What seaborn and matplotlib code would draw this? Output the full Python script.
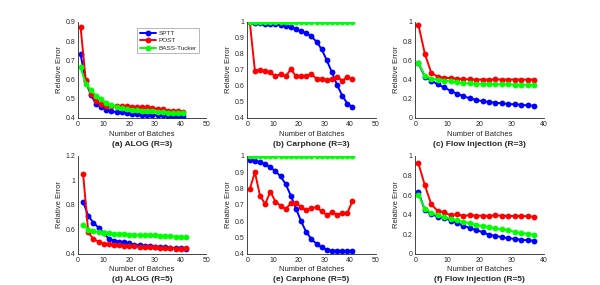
import numpy as np
import pandas as pd
import matplotlib
matplotlib.use("Agg")
import matplotlib.pyplot as plt
import seaborn as sns

sns.set_theme(style="white")
plt.rcParams['font.family'] = ['Liberation Sans', 'DejaVu Sans']

methods = ["SPTT", "POST", "BASS-Tucker"]
colors = {"SPTT": "#0000ff", "POST": "#ff0000", "BASS-Tucker": "#00ff00"}

titles = ["(a) ALOG (R=3)", "(b) Carphone (R=3)", "(c) Flow Injection (R=3)",
          "(d) ALOG (R=5)", "(e) Carphone (R=5)", "(f) Flow Injection (R=5)"]

x_odd41 = list(range(1, 42, 2))
x_even42 = list(range(2, 43, 2))
x_odd37 = list(range(1, 38, 2))

# (a) ALOG R=3
a_sptt = [0.733, 0.59, 0.52, 0.475, 0.457, 0.443, 0.436, 0.43, 0.43, 0.426, 0.42,
          0.42, 0.415, 0.415, 0.415, 0.413, 0.413, 0.41, 0.41, 0.41, 0.41]
a_post = [0.874, 0.60, 0.526, 0.486, 0.472, 0.464, 0.465, 0.463, 0.46, 0.46, 0.458,
          0.458, 0.455, 0.455, 0.45, 0.449, 0.445, 0.438, 0.436, 0.435, 0.432]
a_bass = [0.664, 0.578, 0.545, 0.517, 0.50, 0.478, 0.468, 0.457, 0.45, 0.447, 0.443,
          0.44, 0.438, 0.435, 0.435, 0.43, 0.429, 0.428, 0.428, 0.428, 0.426]

# (b) Carphone R=3
b_sptt = [1.0, 0.995, 0.993, 0.99, 0.988, 0.985, 0.98, 0.975, 0.967, 0.955, 0.942,
          0.93, 0.91, 0.876, 0.83, 0.76, 0.685, 0.606, 0.54, 0.49, 0.468]
b_post = [1.0, 0.695, 0.70, 0.693, 0.685, 0.66, 0.674, 0.66, 0.705, 0.66, 0.66,
          0.664, 0.674, 0.645, 0.645, 0.637, 0.645, 0.658, 0.633, 0.656, 0.643]
b_bass = [1.0] * 21

# (c) Flow Injection R=3
c_sptt = [0.57, 0.43, 0.39, 0.35, 0.318, 0.284, 0.253, 0.228, 0.204, 0.187, 0.176,
          0.166, 0.16, 0.152, 0.145, 0.142, 0.138, 0.131, 0.128]
c_post = [0.97, 0.67, 0.47, 0.43, 0.42, 0.415, 0.41, 0.405, 0.402, 0.40, 0.40,
          0.40, 0.402, 0.40, 0.40, 0.40, 0.40, 0.40, 0.40]
c_bass = [0.575, 0.44, 0.41, 0.40, 0.39, 0.38, 0.37, 0.363, 0.36, 0.358, 0.355,
          0.354, 0.352, 0.35, 0.349, 0.348, 0.347, 0.346, 0.346]

# (d) ALOG R=5
d_sptt = [0.825, 0.71, 0.655, 0.614, 0.57, 0.525, 0.508, 0.50, 0.495, 0.487, 0.476,
          0.47, 0.466, 0.462, 0.46, 0.455, 0.453, 0.45, 0.447, 0.445, 0.44]
d_post = [1.051, 0.576, 0.522, 0.50, 0.484, 0.481, 0.473, 0.47, 0.468, 0.465, 0.463,
          0.46, 0.458, 0.457, 0.453, 0.45, 0.448, 0.445, 0.443, 0.443, 0.45]
d_bass = [0.64, 0.598, 0.587, 0.58, 0.573, 0.568, 0.566, 0.563, 0.56, 0.558, 0.558,
          0.555, 0.555, 0.553, 0.552, 0.55, 0.547, 0.545, 0.542, 0.54, 0.537]

# (e) Carphone R=5
e_sptt = [0.976, 0.97, 0.96, 0.95, 0.93, 0.907, 0.874, 0.827, 0.756, 0.677, 0.60,
          0.533, 0.492, 0.461, 0.44, 0.426, 0.42, 0.42, 0.418, 0.417, 0.417]
e_post = [0.797, 0.90, 0.756, 0.705, 0.782, 0.72, 0.695, 0.675, 0.71, 0.71, 0.687,
          0.667, 0.68, 0.687, 0.66, 0.638, 0.654, 0.64, 0.65, 0.652, 0.723]
e_bass = [1.0] * 21

# (f) Flow Injection R=5
f_sptt = [0.633, 0.445, 0.408, 0.38, 0.37, 0.34, 0.315, 0.288, 0.264, 0.243, 0.223,
          0.195, 0.185, 0.171, 0.161, 0.154, 0.144, 0.14, 0.134]
f_post = [0.925, 0.70, 0.507, 0.438, 0.425, 0.394, 0.407, 0.387, 0.397, 0.39, 0.39,
          0.387, 0.394, 0.39, 0.387, 0.387, 0.387, 0.384, 0.38]
f_bass = [0.606, 0.462, 0.42, 0.394, 0.373, 0.36, 0.342, 0.329, 0.312, 0.295, 0.284,
          0.274, 0.26, 0.25, 0.24, 0.226, 0.216, 0.205, 0.195]

panels = [
    (x_odd41, [a_sptt, a_post, a_bass], (0, 50), (0.4, 0.9), [0.4, 0.5, 0.6, 0.7, 0.8, 0.9], ["0.4", "0.5", "0.6", "0.7", "0.8", "0.9"], [0, 10, 20, 30, 40, 50]),
    (x_odd41, [b_sptt, b_post, b_bass], (0, 50), (0.4, 1.0), [0.4, 0.5, 0.6, 0.7, 0.8, 0.9, 1.0], ["0.4", "0.5", "0.6", "0.7", "0.8", "0.9", "1"], [0, 10, 20, 30, 40, 50]),
    (x_odd37, [c_sptt, c_post, c_bass], (0, 40), (0.0, 1.0), [0, 0.2, 0.4, 0.6, 0.8, 1.0], ["0", "0.2", "0.4", "0.6", "0.8", "1"], [0, 10, 20, 30, 40]),
    (x_even42, [d_sptt, d_post, d_bass], (0, 50), (0.4, 1.2), [0.4, 0.6, 0.8, 1.0, 1.2], ["0.4", "0.6", "0.8", "1", "1.2"], [0, 10, 20, 30, 40, 50]),
    (x_odd41, [e_sptt, e_post, e_bass], (0, 50), (0.4, 1.0), [0.4, 0.5, 0.6, 0.7, 0.8, 0.9, 1.0], ["0.4", "0.5", "0.6", "0.7", "0.8", "0.9", "1"], [0, 10, 20, 30, 40, 50]),
    (x_odd37, [f_sptt, f_post, f_bass], (0, 40), (0.0, 1.0), [0, 0.2, 0.4, 0.6, 0.8, 1.0], ["0", "0.2", "0.4", "0.6", "0.8", "1"], [0, 10, 20, 30, 40]),
]

fig = plt.figure(figsize=(6.0, 2.85), dpi=100)
lefts = [0.130, 0.412, 0.692]
width = 0.214
bottoms = [0.586, 0.109]
heights = [0.337, 0.344]
title_y = [-0.375, -0.36]

for i, (xs, ys, xlim, ylim, yt, ytl, xt) in enumerate(panels):
    r, c = divmod(i, 3)
    ax = fig.add_axes([lefts[c], bottoms[r], width, heights[r]])
    rows = []
    for m, yv in zip(methods, ys):
        for xv, v in zip(xs, yv):
            rows.append({"x": xv, "y": v, "Method": m})
    df = pd.DataFrame(rows)
    sns.lineplot(data=df, x="x", y="y", hue="Method", hue_order=methods,
                 palette=colors, marker="o", markersize=4.2, markeredgewidth=0,
                 linewidth=1.4, ax=ax, legend=(i == 0), estimator=None, sort=False)
    ax.set_xlim(*xlim)
    ax.set_ylim(*ylim)
    ax.set_xticks(xt)
    ax.set_xticklabels([str(t) for t in xt])
    ax.set_yticks(yt)
    ax.set_yticklabels(ytl)
    ax.tick_params(axis="both", labelsize=5, direction="in", length=2, width=0.5,
                   pad=2, colors="#262626")
    for s in ["top", "right"]:
        ax.spines[s].set_visible(False)
    for s in ["left", "bottom"]:
        ax.spines[s].set_linewidth(0.6)
        ax.spines[s].set_color("#262626")
    ax.set_xlabel("Number of Batches", fontsize=5.5, labelpad=2)
    ax.set_ylabel("Relative Error", fontsize=5.5, labelpad=2)
    ax.set_title(titles[i], fontsize=6, fontweight="bold", y=title_y[r])
    if i == 0:
        leg = ax.legend(loc="upper right", bbox_to_anchor=(0.97, 0.97), fontsize=4.6,
                        frameon=True, fancybox=False, edgecolor="#999999",
                        handlelength=2.6, borderpad=0.4, labelspacing=0.3,
                        handletextpad=0.4)
        leg.get_frame().set_linewidth(0.6)

fig.savefig("out.png", dpi=100)
